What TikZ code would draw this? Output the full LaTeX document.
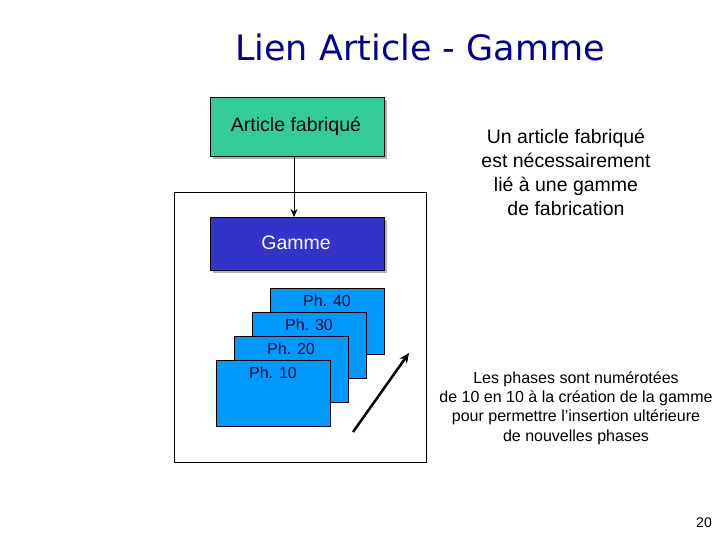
\documentclass[tikz,border=0pt]{standalone}
\usepackage{fontspec}
\usetikzlibrary{arrows.meta}
\setmainfont{Liberation Sans}
\newfontfamily\titlefont{DejaVu Sans}
\begin{document}
\begin{tikzpicture}[x=1pt,y=-1pt,
  box/.style={draw=black,line width=0.8pt,inner sep=0pt},
  phbox/.style={draw=black,line width=0.8pt,fill=phblue},
  lbl/.style={font=\fontsize{16}{18}\selectfont,text=black!85!blue}]
\definecolor{artgreen}{HTML}{33CC99}
\definecolor{gblue}{HTML}{3333CC}
\definecolor{phblue}{HTML}{0099FF}
\definecolor{titleblue}{HTML}{000099}
\useasboundingbox (0,0) rectangle (720,540);
\node[font=\titlefont\fontsize{35}{40}\selectfont,text=titleblue] (title) at (420,47) {Lien Article - Gamme};
% outer
\draw[line width=0.8pt] (174,192) rectangle (426,462);
% article
\fill[gray!60] (213,100) rectangle (387,159);
\draw[box,fill=artgreen] (210,97) rectangle (384,156);
\node[font=\fontsize{19.5}{22}\selectfont] (art) at (296,126) {Article fabriqué};
% gamme
\fill[gray!60] (213,220) rectangle (387,273);
\draw[box,fill=gblue] (210,217) rectangle (384,270);
\node[font=\fontsize{19.5}{22}\selectfont,text=white] (gam) at (296,243) {Gamme};
\coordinate (a1) at (294,156);
\coordinate (a2) at (294,217);
\draw[line width=1pt,-{Stealth[length=8pt,width=7pt]}] (a1) -- (a2);
% phases
\draw[phbox] (270,288) rectangle (384,354);
\node[lbl] (p40) at (327,301) {Ph. 40};
\draw[phbox] (252,312) rectangle (366,378);
\node[lbl] (p30) at (309,325) {Ph. 30};
\draw[phbox] (234,336) rectangle (348,402);
\node[lbl] (p20) at (291,349) {Ph. 20};
\draw[phbox] (216,360) rectangle (330,426);
\node[lbl] (p10) at (273,373) {Ph. 10};
\coordinate (s) at (353,432);
\coordinate (e) at (409,353);
\draw[line width=2.5pt,-{Stealth[length=10pt,width=9pt]}] (s) -- (e);
% texts
\node[align=center,font=\fontsize{19.5}{24}\selectfont] (t1) at (566,172) {Un article fabriqué\\est nécessairement\\lié à une gamme\\de fabrication};
\node[align=center,font=\fontsize{16}{19.4}\selectfont] (t2) at (576,408) {Les phases sont numérotées\\de 10 en 10 à la création de la gamme\\pour permettre l'insertion ultérieure\\de nouvelles phases};
\node[font=\fontsize{14}{16}\selectfont] (pg) at (704,523) {20};
\end{tikzpicture}
\end{document}
